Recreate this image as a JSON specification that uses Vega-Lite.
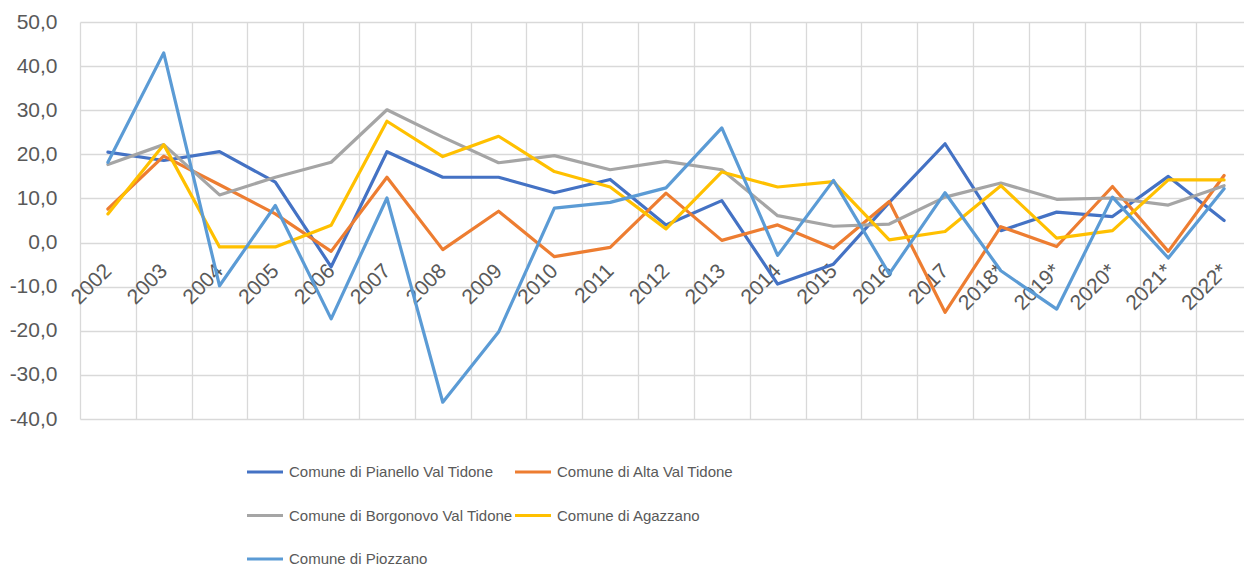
{
  "$schema": "https://vega.github.io/schema/vega-lite/v6.json",
  "autosize": {"type": "none"},
  "padding": {"left": 80, "top": 22, "right": 0, "bottom": 150},
  "width": 1164,
  "height": 397,
  "background": "white",
  "datasets": {
    "d": [
      {"year": "2002", "series": "Comune di Pianello Val Tidone", "value": 20.5},
      {"year": "2003", "series": "Comune di Pianello Val Tidone", "value": 18.6},
      {"year": "2004", "series": "Comune di Pianello Val Tidone", "value": 20.6},
      {"year": "2005", "series": "Comune di Pianello Val Tidone", "value": 13.7},
      {"year": "2006", "series": "Comune di Pianello Val Tidone", "value": -5.5},
      {"year": "2007", "series": "Comune di Pianello Val Tidone", "value": 20.6},
      {"year": "2008", "series": "Comune di Pianello Val Tidone", "value": 14.8},
      {"year": "2009", "series": "Comune di Pianello Val Tidone", "value": 14.8},
      {"year": "2010", "series": "Comune di Pianello Val Tidone", "value": 11.3},
      {"year": "2011", "series": "Comune di Pianello Val Tidone", "value": 14.3},
      {"year": "2012", "series": "Comune di Pianello Val Tidone", "value": 4.0},
      {"year": "2013", "series": "Comune di Pianello Val Tidone", "value": 9.5},
      {"year": "2014", "series": "Comune di Pianello Val Tidone", "value": -9.4},
      {"year": "2015", "series": "Comune di Pianello Val Tidone", "value": -4.9},
      {"year": "2016", "series": "Comune di Pianello Val Tidone", "value": 9.1},
      {"year": "2017", "series": "Comune di Pianello Val Tidone", "value": 22.4},
      {"year": "2018*", "series": "Comune di Pianello Val Tidone", "value": 2.7},
      {"year": "2019*", "series": "Comune di Pianello Val Tidone", "value": 6.9},
      {"year": "2020*", "series": "Comune di Pianello Val Tidone", "value": 5.9},
      {"year": "2021*", "series": "Comune di Pianello Val Tidone", "value": 15.0},
      {"year": "2022*", "series": "Comune di Pianello Val Tidone", "value": 5.0},

      {"year": "2002", "series": "Comune di Alta Val Tidone", "value": 7.6},
      {"year": "2003", "series": "Comune di Alta Val Tidone", "value": 19.6},
      {"year": "2004", "series": "Comune di Alta Val Tidone", "value": 13.1},
      {"year": "2005", "series": "Comune di Alta Val Tidone", "value": 6.5},
      {"year": "2006", "series": "Comune di Alta Val Tidone", "value": -2.0},
      {"year": "2007", "series": "Comune di Alta Val Tidone", "value": 14.8},
      {"year": "2008", "series": "Comune di Alta Val Tidone", "value": -1.6},
      {"year": "2009", "series": "Comune di Alta Val Tidone", "value": 7.1},
      {"year": "2010", "series": "Comune di Alta Val Tidone", "value": -3.2},
      {"year": "2011", "series": "Comune di Alta Val Tidone", "value": -1.1},
      {"year": "2012", "series": "Comune di Alta Val Tidone", "value": 11.2},
      {"year": "2013", "series": "Comune di Alta Val Tidone", "value": 0.5},
      {"year": "2014", "series": "Comune di Alta Val Tidone", "value": 4.0},
      {"year": "2015", "series": "Comune di Alta Val Tidone", "value": -1.3},
      {"year": "2016", "series": "Comune di Alta Val Tidone", "value": 9.3},
      {"year": "2017", "series": "Comune di Alta Val Tidone", "value": -15.8},
      {"year": "2018*", "series": "Comune di Alta Val Tidone", "value": 3.6},
      {"year": "2019*", "series": "Comune di Alta Val Tidone", "value": -0.9},
      {"year": "2020*", "series": "Comune di Alta Val Tidone", "value": 12.7},
      {"year": "2021*", "series": "Comune di Alta Val Tidone", "value": -2.0},
      {"year": "2022*", "series": "Comune di Alta Val Tidone", "value": 15.2},

      {"year": "2002", "series": "Comune di Borgonovo Val Tidone", "value": 17.7},
      {"year": "2003", "series": "Comune di Borgonovo Val Tidone", "value": 22.2},
      {"year": "2004", "series": "Comune di Borgonovo Val Tidone", "value": 10.8},
      {"year": "2005", "series": "Comune di Borgonovo Val Tidone", "value": 14.8},
      {"year": "2006", "series": "Comune di Borgonovo Val Tidone", "value": 18.2},
      {"year": "2007", "series": "Comune di Borgonovo Val Tidone", "value": 30.1},
      {"year": "2008", "series": "Comune di Borgonovo Val Tidone", "value": 23.9},
      {"year": "2009", "series": "Comune di Borgonovo Val Tidone", "value": 18.1},
      {"year": "2010", "series": "Comune di Borgonovo Val Tidone", "value": 19.7},
      {"year": "2011", "series": "Comune di Borgonovo Val Tidone", "value": 16.5},
      {"year": "2012", "series": "Comune di Borgonovo Val Tidone", "value": 18.4},
      {"year": "2013", "series": "Comune di Borgonovo Val Tidone", "value": 16.5},
      {"year": "2014", "series": "Comune di Borgonovo Val Tidone", "value": 6.1},
      {"year": "2015", "series": "Comune di Borgonovo Val Tidone", "value": 3.7},
      {"year": "2016", "series": "Comune di Borgonovo Val Tidone", "value": 4.2},
      {"year": "2017", "series": "Comune di Borgonovo Val Tidone", "value": 10.3},
      {"year": "2018*", "series": "Comune di Borgonovo Val Tidone", "value": 13.5},
      {"year": "2019*", "series": "Comune di Borgonovo Val Tidone", "value": 9.8},
      {"year": "2020*", "series": "Comune di Borgonovo Val Tidone", "value": 10.1},
      {"year": "2021*", "series": "Comune di Borgonovo Val Tidone", "value": 8.5},
      {"year": "2022*", "series": "Comune di Borgonovo Val Tidone", "value": 12.9},

      {"year": "2002", "series": "Comune di Agazzano", "value": 6.5},
      {"year": "2003", "series": "Comune di Agazzano", "value": 22.2},
      {"year": "2004", "series": "Comune di Agazzano", "value": -1.0},
      {"year": "2005", "series": "Comune di Agazzano", "value": -1.0},
      {"year": "2006", "series": "Comune di Agazzano", "value": 3.9},
      {"year": "2007", "series": "Comune di Agazzano", "value": 27.5},
      {"year": "2008", "series": "Comune di Agazzano", "value": 19.5},
      {"year": "2009", "series": "Comune di Agazzano", "value": 24.1},
      {"year": "2010", "series": "Comune di Agazzano", "value": 16.1},
      {"year": "2011", "series": "Comune di Agazzano", "value": 12.6},
      {"year": "2012", "series": "Comune di Agazzano", "value": 3.1},
      {"year": "2013", "series": "Comune di Agazzano", "value": 16.0},
      {"year": "2014", "series": "Comune di Agazzano", "value": 12.6},
      {"year": "2015", "series": "Comune di Agazzano", "value": 13.8},
      {"year": "2016", "series": "Comune di Agazzano", "value": 0.6},
      {"year": "2017", "series": "Comune di Agazzano", "value": 2.5},
      {"year": "2018*", "series": "Comune di Agazzano", "value": 12.9},
      {"year": "2019*", "series": "Comune di Agazzano", "value": 1.0},
      {"year": "2020*", "series": "Comune di Agazzano", "value": 2.7},
      {"year": "2021*", "series": "Comune di Agazzano", "value": 14.2},
      {"year": "2022*", "series": "Comune di Agazzano", "value": 14.2},

      {"year": "2002", "series": "Comune di Piozzano", "value": 18.2},
      {"year": "2003", "series": "Comune di Piozzano", "value": 43.0},
      {"year": "2004", "series": "Comune di Piozzano", "value": -9.8},
      {"year": "2005", "series": "Comune di Piozzano", "value": 8.4},
      {"year": "2006", "series": "Comune di Piozzano", "value": -17.3},
      {"year": "2007", "series": "Comune di Piozzano", "value": 10.1},
      {"year": "2008", "series": "Comune di Piozzano", "value": -36.2},
      {"year": "2009", "series": "Comune di Piozzano", "value": -20.3},
      {"year": "2010", "series": "Comune di Piozzano", "value": 7.8},
      {"year": "2011", "series": "Comune di Piozzano", "value": 9.1},
      {"year": "2012", "series": "Comune di Piozzano", "value": 12.4},
      {"year": "2013", "series": "Comune di Piozzano", "value": 26.0},
      {"year": "2014", "series": "Comune di Piozzano", "value": -2.9},
      {"year": "2015", "series": "Comune di Piozzano", "value": 14.1},
      {"year": "2016", "series": "Comune di Piozzano", "value": -7.1},
      {"year": "2017", "series": "Comune di Piozzano", "value": 11.3},
      {"year": "2018*", "series": "Comune di Piozzano", "value": -6.4},
      {"year": "2019*", "series": "Comune di Piozzano", "value": -15.1},
      {"year": "2020*", "series": "Comune di Piozzano", "value": 10.3},
      {"year": "2021*", "series": "Comune di Piozzano", "value": -3.5},
      {"year": "2022*", "series": "Comune di Piozzano", "value": 12.2}
    ]
  },
  "data": {"name": "d"},
  "mark": {"type": "line", "strokeWidth": 3.2, "strokeJoin": "round", "strokeCap": "round"},
  "encoding": {
    "x": {
      "field": "year",
      "type": "nominal",
      "sort": null,
      "scale": {"type": "band", "range": [0, 1172], "paddingInner": 0, "paddingOuter": 0},
      "axis": {
        "title": null,
        "tickBand": "extent",
        "grid": true,
        "gridColor": "#d9d9d9",
        "gridWidth": 1.3,
        "ticks": false,
        "domain": false,
        "labelAngle": -45,
        "labelAlign": "right",
        "labelBaseline": "middle",
        "labelPadding": 25,
        "offset": -176.4,
        "labelFont": "Liberation Sans",
        "labelFontSize": 21,
        "labelColor": "#595959",
        "labelOverlap": false
      }
    },
    "y": {
      "field": "value",
      "type": "quantitative",
      "scale": {"domain": [-40, 50], "nice": false, "zero": false},
      "axis": {
        "title": null,
        "values": [-40, -30, -20, -10, 0, 10, 20, 30, 40, 50],
        "labelExpr": "replace(replace(format(datum.value, '.1f'), '.', ','), '\u2212', '-')",
        "ticks": false,
        "domain": false,
        "grid": true,
        "gridColor": "#d9d9d9",
        "gridWidth": 1.3,
        "labelPadding": 23,
        "labelFont": "Liberation Sans",
        "labelFontSize": 21,
        "labelColor": "#595959"
      }
    },
    "color": {
      "field": "series",
      "type": "nominal",
      "sort": null,
      "scale": {
        "domain": ["Comune di Pianello Val Tidone", "Comune di Alta Val Tidone", "Comune di Borgonovo Val Tidone", "Comune di Agazzano", "Comune di Piozzano"],
        "range": ["#4472C4", "#ED7D31", "#A5A5A5", "#FFC000", "#5B9BD5"]
      },
      "legend": {
        "orient": "none",
        "legendX": 165,
        "legendY": 430,
        "direction": "horizontal",
        "columns": 2,
        "title": null,
        "symbolType": "stroke",
        "symbolSize": 1296,
        "symbolStrokeWidth": 3.2,
        "labelFont": "Liberation Sans",
        "labelFontSize": 15,
        "labelColor": "#595959",
        "labelOffset": 4,
        "columnPadding": -8,
        "rowPadding": 15.5,
        "labelLimit": 400
      }
    }
  },
  "config": {"view": {"stroke": null}}
}
